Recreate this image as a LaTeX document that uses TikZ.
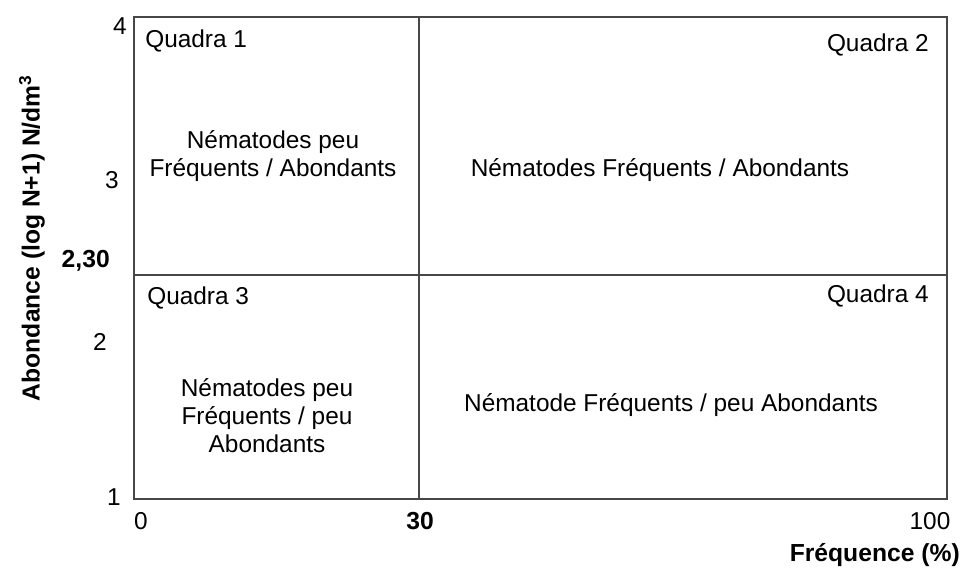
\documentclass[tikz,border=0pt]{standalone}
\usepackage{fontspec}
\setmainfont{Liberation Sans}

\begin{document}
\begin{tikzpicture}[x=0.75pt, y=-0.75pt,
		every node/.style={font=\fontsize{18.3}{21}\selectfont, inner sep=0pt},
		grid/.style={line width=2.2pt, color=black!72},
		boldlabel/.style={font=\fontsize{18.5}{21}\selectfont\bfseries},
		quadtext/.style={align=center, font=\fontsize{18.3}{21}\selectfont}]
			%%%%% START %%%%%
			
			\useasboundingbox (0, 0) rectangle (963, 570);
			
			\draw[grid] (134, 17) rectangle (947, 499);
			\draw[grid] (419, 17) -- (419, 499);
			\draw[grid] (134, 275) -- (947, 275);
			
			\node (ytick4) at (120, 26) {4};
			\node (ytick3) at (112, 180) {3};
			\node[boldlabel, anchor=east] (ytick230) at (110, 261) {2,30};
			\node (ytick2) at (100, 342) {2};
			\node (ytick1) at (114, 497) {1};
			
			\node (xtick0) at (141, 521) {0};
			\node[boldlabel] (xtick30) at (420, 521) {30};
			\node (xtick100) at (930, 521) {100};
			
			\node[boldlabel, anchor=east] (xlabel) at (960, 555) {Fréquence (\%)};
			\node[boldlabel, rotate=90] (ylabel) at (32, 238) {Abondance (log N+1) N/dm\textsuperscript{3}};
			
			\node[anchor=west] (quadra1) at (145, 41) {Quadra 1};
			\node[anchor=east] (quadra2) at (929, 45) {Quadra 2};
			\node[anchor=west] (quadra3) at (147, 298) {Quadra 3};
			\node[anchor=east] (quadra4) at (929, 296) {Quadra 4};
			
			\node[quadtext] (text1) at (273, 156) {Nématodes peu\\Fréquents / Abondants};
			\node[quadtext] (text2) at (660, 170) {Nématodes Fréquents / Abondants};
			\node[quadtext] (text3) at (267, 416) {Nématodes peu\\Fréquents / peu\\Abondants};
			\node[quadtext] (text4) at (671, 405) {Nématode Fréquents / peu Abondants};
			
			%%%%% END %%%%%
		\end{tikzpicture}
\end{document}
